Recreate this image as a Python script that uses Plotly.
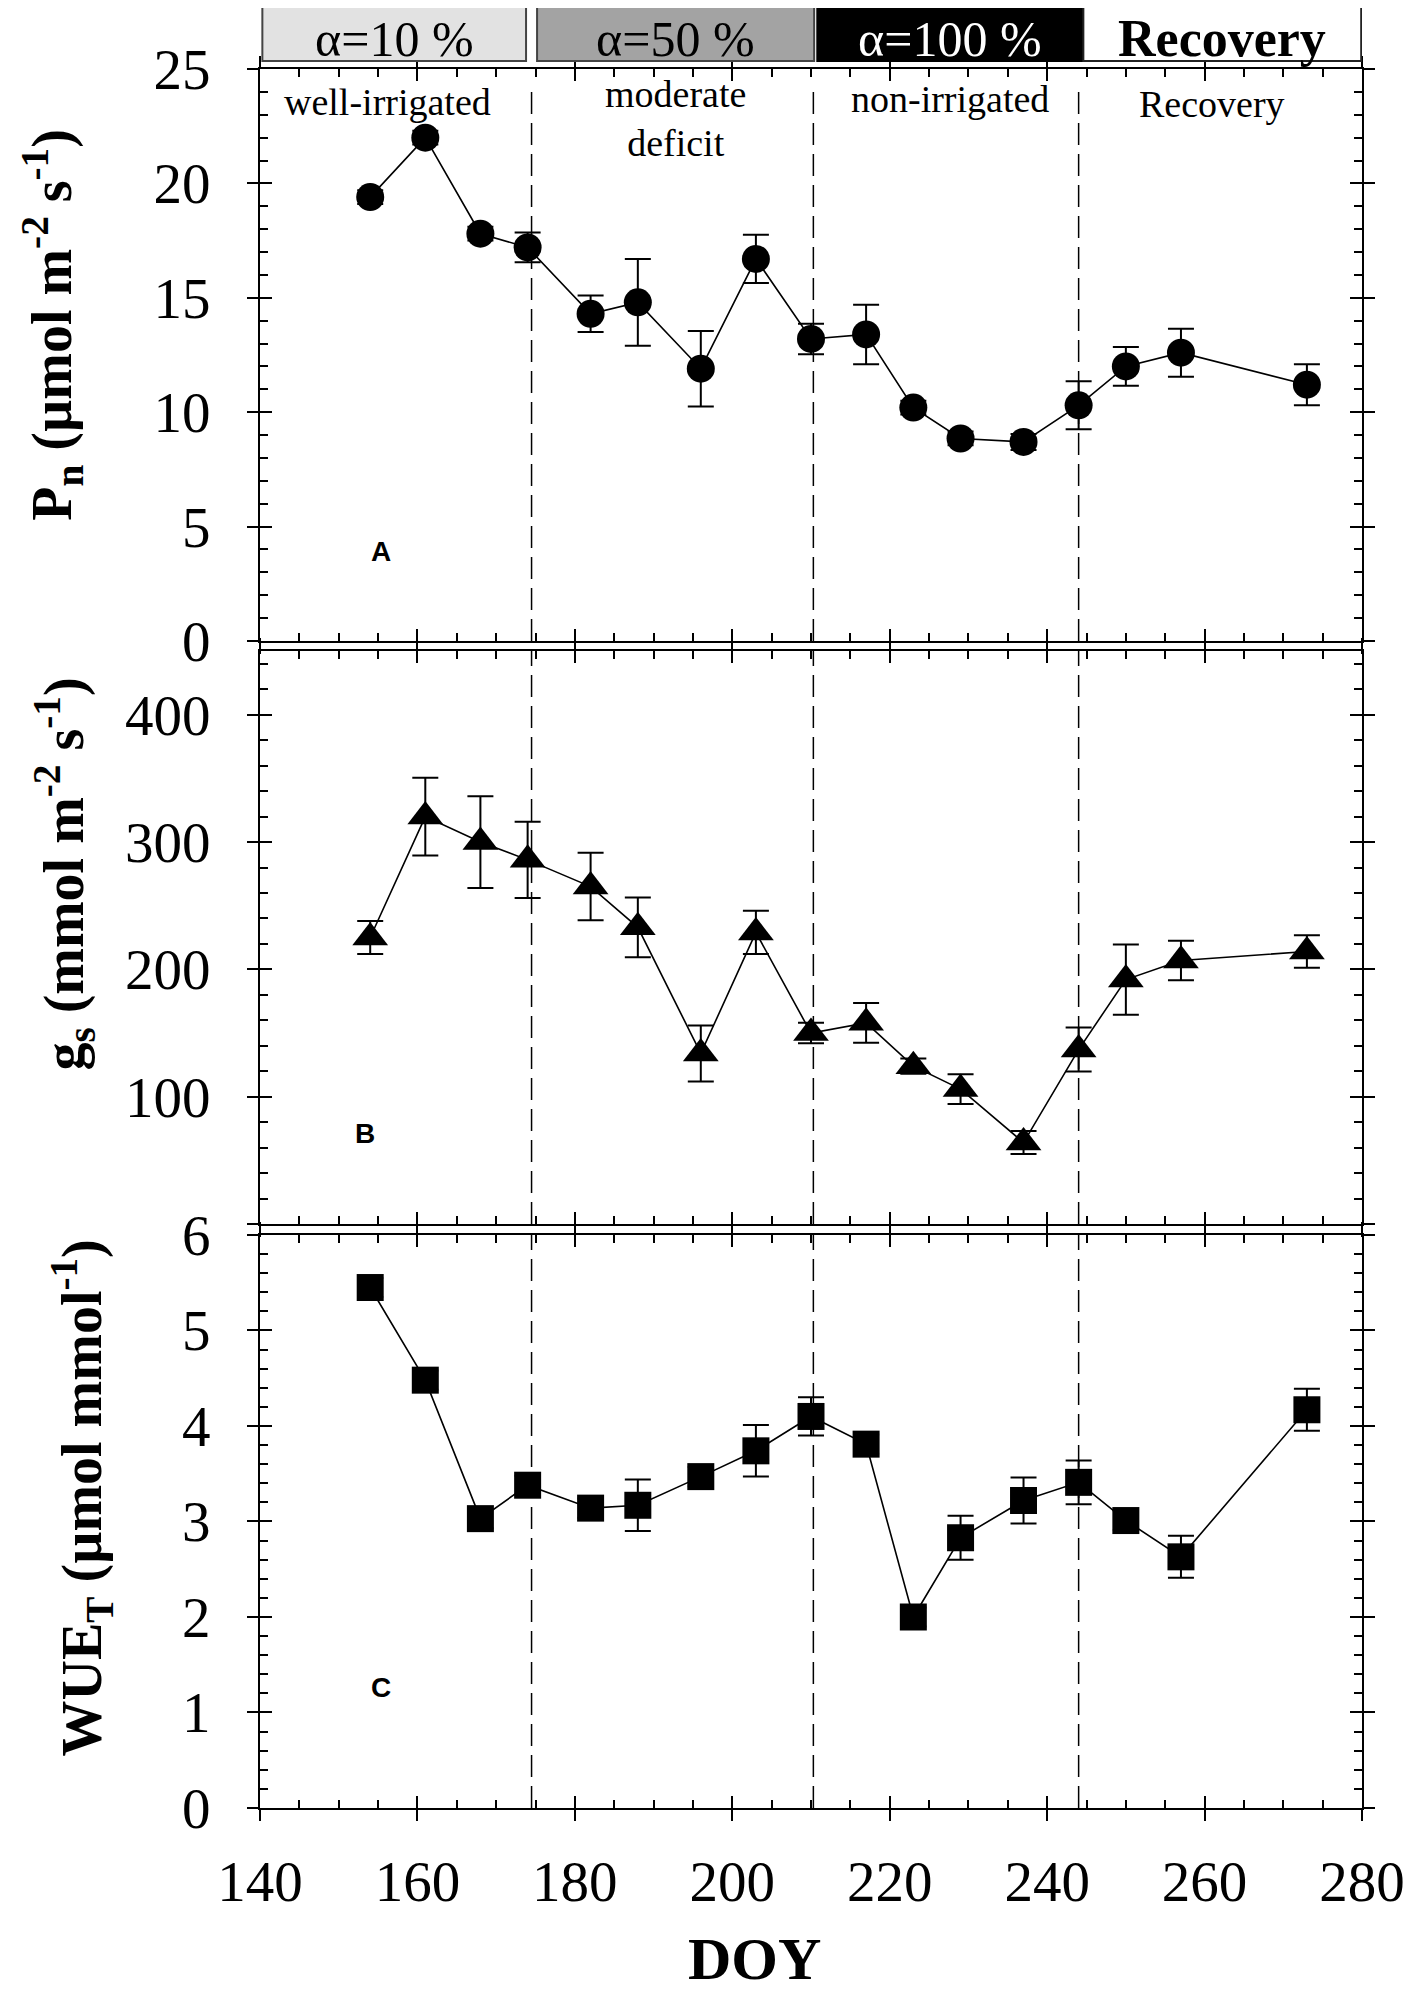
import plotly.graph_objects as go

# ---------------- data ----------------
doy = [154, 161, 168, 174, 182, 188, 196, 203, 210, 217, 223, 229, 237, 244, 250, 257, 273]

pn = [19.4, 22.0, 17.8, 17.2, 14.3, 14.8, 11.9, 16.7, 13.2, 13.4, 10.2, 8.85, 8.7, 10.3, 12.0, 12.6, 11.2]
pn_err = [0.3, 0.3, 0.3, 0.65, 0.8, 1.9, 1.65, 1.05, 0.67, 1.3, 0.3, 0.3, 0.35, 1.05, 0.85, 1.05, 0.9]

gs = [225, 320, 300, 286, 265, 233, 134, 229, 150, 158, 124, 106, 64, 137, 192, 207, 214]
gs_err = [13, 30.5, 36, 30, 26.5, 23.5, 22, 17, 8, 15.6, 6, 11.7, 9, 17.3, 27.6, 15.5, 12.8]

wue = [5.45, 4.48, 3.03, 3.38, 3.14, 3.17, 3.47, 3.74, 4.10, 3.81, 2.0, 2.83, 3.22, 3.41, 3.01, 2.63, 4.17]
wue_err = [0.1, 0.1, 0.1, 0.1, 0.1, 0.27, 0.1, 0.27, 0.2, 0.1, 0.1, 0.23, 0.24, 0.23, 0.1, 0.22, 0.22]

phase_lines = [174.5, 210.3, 244.0]
header_labels = ["α=10 %", "α=50 %", "α=100 %", "<b>Recovery</b>"]
header_start = [140.3, 175.2, 210.8, 244.6]
header_end = [173.8, 210.4, 244.6, 279.9]
region_labels = ["well-irrigated", "moderate<br>deficit", "non-irrigated", "Recovery"]
region_x = [156.2, 192.8, 227.6, 261.0]
region_y = [23.55, 22.85, 23.7, 23.45]

# ---------------- style ----------------
SERIF = "Liberation Serif"
OFF = 8                      # default page body margin
W, H = 1417 - OFF, 1994 - OFF
ML, MR, MT, MB = 260 - OFF, 46, 69 - OFF, 186
PW, PH = W - ML - MR, H - MT - MB

def px_x(p):                 # absolute page pixel -> paper x
    return (p - OFF - ML) / PW

def px_y(p):                 # absolute page pixel -> paper y
    return (H + OFF - MB - p) / PH

domains = [[0.6711, 1.0], [0.3358, 0.6653], [0.0, 0.3295]]
yranges = [[0, 25], [0, 450], [0, 6]]
ydticks = [5, 100, 1]
yminor = [1, 20, 0.2]
xrange_ = [140, 280]

fig = go.Figure()

series = [
    (pn, pn_err, "circle", 28),
    (gs, gs_err, "triangle-up", 31),
    (wue, wue_err, "square", 27),
]

for i, (vals, errs, sym, size) in enumerate(series):
    k = "" if i == 0 else str(i + 1)
    fig.add_trace(go.Scatter(
        x=doy, y=vals, mode="lines+markers",
        xaxis="x" + k, yaxis="y" + k,
        line=dict(color="black", width=1.6),
        marker=dict(symbol=sym, size=size, color="black"),
        error_y=dict(type="data", array=errs, visible=True, color="black",
                     thickness=2, width=13),
        showlegend=False, hoverinfo="skip", cliponaxis=False,
    ))
    # empty trace for the overlay axes (outer halves of major ticks)
    fig.add_trace(go.Scatter(x=[], y=[], xaxis="x" + str(i + 4), yaxis="y" + str(i + 4),
                             showlegend=False))

tickfont = dict(family=SERIF, size=57, color="black")
layout = dict(
    width=W, height=H,
    margin=dict(l=ML, r=MR, t=MT, b=MB),
    paper_bgcolor="white", plot_bgcolor="white",
    showlegend=False,
)

for i in range(3):
    k = "" if i == 0 else str(i + 1)
    ko = str(i + 4)
    xa = dict(
        domain=[0, 1], range=xrange_, anchor="y" + k,
        showline=True, linecolor="black", linewidth=2, mirror="ticks",
        ticks="inside", ticklen=12, tickwidth=2, tickcolor="black",
        dtick=20, tick0=140, showgrid=False, zeroline=False,
        minor=dict(dtick=5, tick0=140, ticks="inside", ticklen=8, tickwidth=1.5,
                   tickcolor="black", showgrid=False),
        showticklabels=(i == 2), tickfont=tickfont, ticklabelstandoff=23,
        ticklabeloverflow="allow",
    )
    ya = dict(
        domain=domains[i], range=yranges[i], anchor="x" + k,
        showline=True, linecolor="black", linewidth=2, mirror="ticks",
        ticks="inside", ticklen=12, tickwidth=2, tickcolor="black",
        dtick=ydticks[i], tick0=0, showgrid=False, zeroline=False,
        minor=dict(dtick=yminor[i], tick0=0, ticks="inside", ticklen=8, tickwidth=1.5,
                   tickcolor="black", showgrid=False),
        tickfont=tickfont, ticklabelstandoff=36,
    )
    if i == 1:
        ya["tickvals"] = [100, 200, 300, 400]
    xo = dict(
        domain=[0, 1], range=xrange_, anchor="y" + ko, overlaying="x" + k,
        showline=False, mirror="ticks", ticks="outside", ticklen=12, tickwidth=2,
        tickcolor="black", dtick=20, tick0=140, showgrid=False, zeroline=False,
        showticklabels=False,
    )
    yo = dict(
        domain=domains[i], range=yranges[i], anchor="x" + ko, overlaying="y" + k,
        showline=False, mirror="ticks", ticks="outside", ticklen=12, tickwidth=2,
        tickcolor="black", dtick=ydticks[i], tick0=0, showgrid=False, zeroline=False,
        showticklabels=False,
    )
    layout["xaxis" + k] = xa
    layout["yaxis" + k] = ya
    layout["xaxis" + ko] = xo
    layout["yaxis" + ko] = yo

fig.update_layout(**layout)

# vertical dashed phase separators in every panel
shapes = []
for i in range(3):
    k = "" if i == 0 else str(i + 1)
    for xv in phase_lines:
        shapes.append(dict(type="line", xref="x" + k, yref="y" + k + " domain",
                           x0=xv, x1=xv, y0=0.0, y1=0.96 if i == 0 else 1.0,
                           line=dict(color="black", width=1.5, dash="22px,9px")))

# header boxes
header_fill = ["#e2e2e2", "#a3a3a3", "#000000", "#ffffff"]
header_line = ["#444444", "#444444", "#000000", "#222222"]
header_text = ["black", "black", "white", "black"]
header_size = [50, 50, 50, 52]
annotations = []
for lab, x0, x1, fc, lc, tc, fs in zip(header_labels, header_start, header_end,
                                       header_fill, header_line, header_text, header_size):
    shapes.append(dict(type="rect", xref="x", yref="paper", x0=x0, x1=x1,
                       y0=px_y(61), y1=px_y(2), fillcolor=fc,
                       line=dict(color=lc, width=2), layer="above"))
    annotations.append(dict(xref="x", yref="paper", x=(x0 + x1) / 2, y=px_y(39),
                            text=lab, showarrow=False, xanchor="center", yanchor="middle",
                            borderpad=0, font=dict(family=SERIF, size=fs, color=tc)))

# region labels in panel A
for lab, xv, yv in zip(region_labels, region_x, region_y):
    annotations.append(dict(xref="x", yref="y", x=xv, y=yv, text=lab, showarrow=False,
                            xanchor="center", yanchor="middle",
                            font=dict(family=SERIF, size=38, color="black")))

# panel letters
for lab, k, xv, yv in [("A", "", 155.4, 3.9), ("B", "2", 153.3, 71.5), ("C", "3", 155.4, 1.26)]:
    annotations.append(dict(xref="x" + k, yref="y" + k, x=xv, y=yv, text="<b>" + lab + "</b>",
                            showarrow=False, xanchor="center", yanchor="middle",
                            font=dict(family="Liberation Sans", size=28, color="black")))

# axis titles
ytitles = [
    ("<b>P<sub>n</sub> (µmol m<sup>-2</sup> s<sup>-1</sup>)</b>", 50, 325),
    ("<b>g<sub>s</sub> (mmol m<sup>-2</sup> s<sup>-1</sup>)</b>", 62, 874),
    ("<b>WUE<sub>T</sub> (µmol mmol<sup>-1</sup>)</b>", 80, 1498),
]
for txt, xp, yp in ytitles:
    annotations.append(dict(xref="paper", yref="paper", x=px_x(xp), y=px_y(yp), text=txt,
                            textangle=-90, showarrow=False, xanchor="center", yanchor="middle",
                            borderpad=0, font=dict(family=SERIF, size=56, color="black")))
annotations.append(dict(xref="paper", yref="paper", x=px_x(759), y=px_y(1959),
                        text="<b>DOY</b>", showarrow=False, xanchor="center", yanchor="middle",
                        borderpad=0, font=dict(family=SERIF, size=60, color="black")))

fig.update_layout(shapes=shapes, annotations=annotations)
fig.write_html("out.html")
